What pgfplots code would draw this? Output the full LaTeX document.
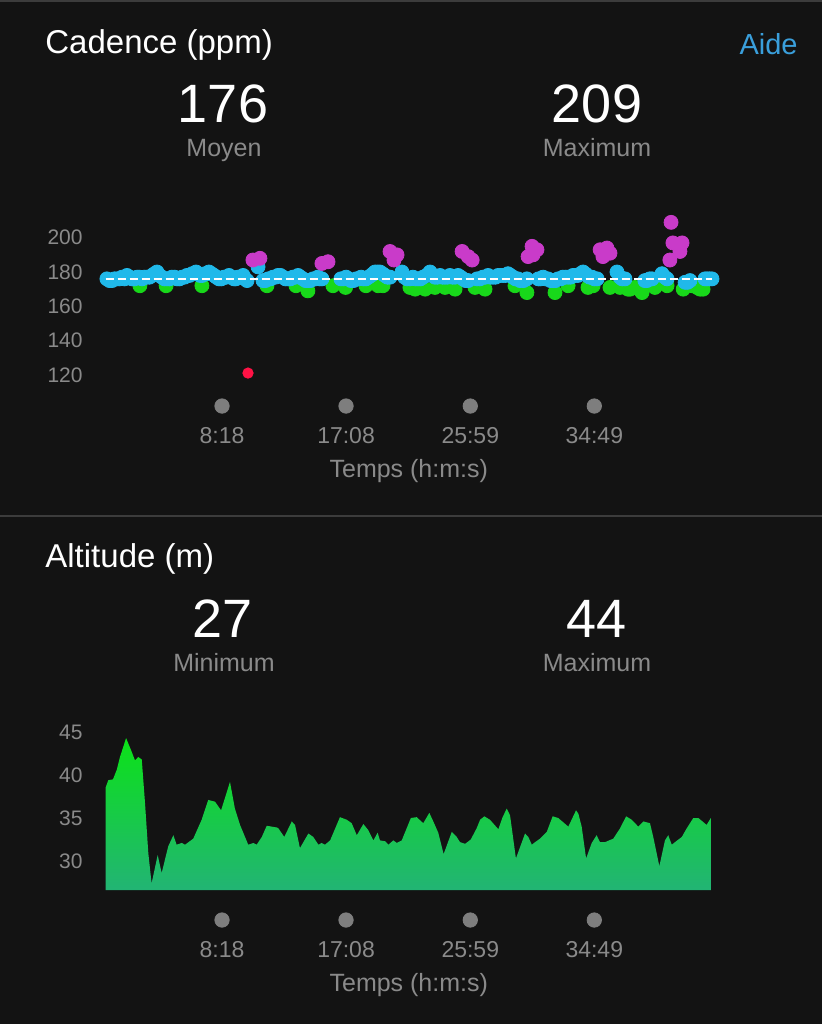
\documentclass[border=0pt]{standalone}
\usepackage{pgfplots}
\pgfplotsset{compat=1.18}
\usepackage{fontspec}
\setmainfont{Liberation Sans}
\definecolor{bg}{HTML}{131313}
\definecolor{sepgray}{HTML}{3C3C3C}
\definecolor{labgray}{HTML}{8A8A8A}
\definecolor{dotgray}{HTML}{7E7E7E}
\definecolor{aideblue}{HTML}{3A9FDB}
\definecolor{cblue}{HTML}{20B9EA}
\definecolor{cgreen}{HTML}{18D81A}
\definecolor{cmag}{HTML}{C93BC9}
\definecolor{cred}{HTML}{FF1245}
\definecolor{altop}{HTML}{0CE218}
\definecolor{albot}{HTML}{22B474}

\pgfplotstableread{
t v
6 176
17 175
28 175
38 176
49 176
60 176
71 177
81 176
92 178
103 177
113 176
124 176
135 177
145 177
156 176
166 177
177 177
188 177
199 178
209 179
220 180
231 178
241 177
252 176
263 176
273 176
284 177
295 177
306 176
316 176
327 177
338 177
348 178
359 178
370 179
378 179
387 180
395 179
404 178
414 178
425 179
433 179
442 180
453 179
464 178
474 177
485 176
495 176
506 177
517 177
528 178
538 177
549 176
557 176
566 177
577 177
588 178
596 176
605 175
652 183
673 175
684 175
695 176
705 176
716 177
727 177
737 178
748 178
759 177
769 176
780 176
790 176
801 177
812 177
823 178
833 177
844 176
855 175
865 175
876 175
887 176
897 176
908 177
916 176
925 176
1006 176
1017 176
1028 177
1038 176
1049 175
1060 175
1071 176
1081 176
1092 177
1103 176
1113 176
1124 177
1135 178
1144 179
1152 180
1163 180
1173 180
1184 179
1194 178
1205 177
1216 177
1267 180
1278 177
1289 176
1301 176
1314 177
1325 176
1336 176
1346 176
1357 177
1372 178
1387 180
1398 178
1408 177
1419 177
1430 178
1440 177
1451 177
1462 177
1472 178
1483 177
1494 177
1507 178
1518 177
1528 176
1539 175
1550 175
1588 176
1600 176
1613 177
1624 177
1635 178
1645 177
1656 177
1667 177
1678 178
1688 178
1699 178
1710 178
1720 179
1731 178
1742 177
1752 176
1763 176
1772 175
1786 175
1801 176
1850 176
1860 176
1870 177
1880 176
1891 176
1902 175
1913 175
1923 175
1934 176
1945 176
1955 177
1966 177
1977 177
1988 177
1998 178
2008 178
2019 178
2030 179
2041 180
2050 179
2058 178
2069 177
2079 177
2090 176
2101 176
2186 180
2199 177
2208 176
2220 176
2305 175
2314 175
2326 176
2336 176
2378 179
2390 177
2400 176
2477 174
2488 174
2498 175
2562 176
2571 176
2582 176
2592 176
}\blue

\pgfplotstableread{
t v
147 172
259 172
412 172
690 172
814 172
865 169
972 172
1026 171
1113 172
1165 172
1186 172
1301 171
1323 170
1366 170
1408 171
1451 171
1494 170
1579 171
1622 170
1750 172
1801 168
1921 168
1977 172
2062 171
2084 172
2156 171
2199 171
2233 170
2242 170
2263 171
2285 170
2293 168
2348 171
2400 172
2469 170
2507 172
2528 171
2541 170
2554 170
}\green

\pgfplotstableread{
t v
630 187
660 188
925 185
951 186
1216 192
1246 190
1233 187
1524 192
1550 189
1567 187
1823 195
1844 193
1806 189
1827 190
2114 193
2143 194
2126 189
2156 191
2417 209
2425 197
2464 197
2455 192
2412 187
}\magenta

\begin{document}
\begin{tikzpicture}
\fill[bg] (0,0) rectangle (411pt,-512pt);
\useasboundingbox (0,0) rectangle (411pt,-512pt);
\draw[sepgray, line width=1.2pt] (0,-0.6pt) -- (411pt,-0.6pt);
\draw[sepgray, line width=0.7pt] (0,-258pt) -- (411pt,-258pt);

% Cadence header
\node[anchor=base west, inner sep=0pt, text=white, font=\fontsize{16.5}{18}\selectfont] at (22.5pt,-26.5pt) {Cadence (ppm)};
\node[anchor=base east, inner sep=0pt, text=aideblue, font=\fontsize{14.5}{16}\selectfont] at (399pt,-27pt) {Aide};
\node[anchor=base, inner sep=0pt, text=white, font=\fontsize{27}{29}\selectfont] at (111.5pt,-61pt) {176};
\node[anchor=base, inner sep=0pt, text=white, font=\fontsize{27}{29}\selectfont] at (298.5pt,-61pt) {209};
\node[anchor=base, inner sep=0pt, text=labgray, font=\fontsize{12.5}{14}\selectfont] at (112pt,-78pt) {Moyen};
\node[anchor=base, inner sep=0pt, text=labgray, font=\fontsize{12.5}{14}\selectfont] at (298.5pt,-78pt) {Maximum};

% Altitude header
\node[anchor=base west, inner sep=0pt, text=white, font=\fontsize{16.5}{18}\selectfont] at (22.5pt,-283.5pt) {Altitude (m)};
\node[anchor=base, inner sep=0pt, text=white, font=\fontsize{27}{29}\selectfont] at (111.5pt,-318.5pt) {27};
\node[anchor=base, inner sep=0pt, text=white, font=\fontsize{27}{29}\selectfont] at (298.5pt,-318.5pt) {44};
\node[anchor=base, inner sep=0pt, text=labgray, font=\fontsize{12.5}{14}\selectfont] at (112pt,-335.5pt) {Minimum};
\node[anchor=base, inner sep=0pt, text=labgray, font=\fontsize{12.5}{14}\selectfont] at (298.5pt,-335.5pt) {Maximum};

\pgfplotsset{
  darkaxis/.style={
    anchor=south west, scale only axis, width=303.25pt,
    xmin=0, xmax=2592,
    axis line style={draw=none}, major tick length=0pt, minor tick num=0,
    clip=false, clip marker paths=true,
    /pgf/number format/assume math mode=true,
    xtick={498,1028,1559,2089}, xticklabels={8:18,17:08,25:59,34:49},
    yticklabel style={anchor=east, inner sep=0pt, xshift=-11.25pt, text=labgray, font=\fontsize{10.5}{12}\selectfont},
    xlabel={Temps (h:m:s)},
  }
}

\begin{axis}[darkaxis,
  at={(52.75pt,-195.95pt)}, height=87.35pt,
  ymin=110, ymax=212, ytick={120,140,160,180,200},
  xticklabel style={anchor=base, inner sep=0pt, yshift=-25.7pt, text=labgray, font=\fontsize{11.5}{13}\selectfont},
  xlabel style={at={(axis description cs:0.5,0)}, anchor=base, inner sep=0pt, yshift=-42.7pt, text=labgray, font=\fontsize{12.5}{14}\selectfont},
]
\addplot[only marks, mark=*, mark size=3.5pt, color=cgreen, mark options={draw=none, fill=cgreen}] table[x=t,y=v] {\green};
\addplot[only marks, mark=*, mark size=3.5pt, color=cblue, mark options={draw=none, fill=cblue}] table[x=t,y=v] {\blue};
\addplot[only marks, mark=*, mark size=3.5pt, color=cmag, mark options={draw=none, fill=cmag}] table[x=t,y=v] {\magenta};
\addplot[only marks, mark=*, mark size=2.6pt, color=cred, mark options={draw=none, fill=cred}] coordinates {(609,121)};
\addplot[white, line width=0.7pt, dash pattern=on 4pt off 2pt] coordinates {(0,176) (2592,176)};
\addplot[only marks, mark=*, mark size=3.6pt, color=dotgray, mark options={draw=none, fill=dotgray}] coordinates {(498,101.75) (1028,101.75) (1559,101.75) (2089,101.75)};
\end{axis}

\begin{axis}[darkaxis,
  at={(52.75pt,-445pt)}, height=83.3pt,
  ymin=26.63, ymax=46, ytick={30,35,40,45},
  xticklabel style={anchor=base, inner sep=0pt, yshift=-33.65pt, text=labgray, font=\fontsize{11.5}{13}\selectfont},
  xlabel style={at={(axis description cs:0.5,0)}, anchor=base, inner sep=0pt, yshift=-50.65pt, text=labgray, font=\fontsize{12.5}{14}\selectfont},
]
\addplot[draw=none, top color=altop, bottom color=albot] coordinates {
(0,26.63) (0,38.5) (12,39.4) (32,39.5) (48,40.6) (62,42.1) (88,44.3) (112,42.7) (126,41.7) (140,42.1) (155,41.8) (169,36.7) (183,30.9) (197,27.4) (223,30.7) (240,28.6) (268,31.7) (290,33.0) (304,31.9) (326,32.1) (340,31.9) (375,32.6) (411,34.8) (439,37.1) (468,36.9) (494,35.9) (532,39.2) (553,36.1) (575,34.2) (610,31.9) (632,32.1) (646,31.9) (668,32.8) (689,34.1) (732,33.9) (739,33.8) (764,32.8) (796,34.6) (810,34.2) (831,31.5) (867,33.2) (888,32.8) (910,31.9) (924,32.1) (938,31.9) (960,32.4) (1002,35.1) (1031,34.8) (1052,34.4) (1074,33.0) (1102,34.3) (1123,33.6) (1145,32.4) (1163,33.3) (1173,32.4) (1195,32.3) (1209,31.9) (1230,32.4) (1245,32.1) (1266,32.4) (1305,35.0) (1330,35.1) (1358,34.4) (1384,35.6) (1401,34.6) (1422,33.3) (1445,30.8) (1480,33.4) (1501,32.8) (1515,32.2) (1537,32.0) (1561,32.5) (1586,33.8) (1601,34.8) (1619,35.2) (1643,34.8) (1679,33.7) (1697,35.1) (1715,36.1) (1729,35.3) (1754,30.3) (1793,33.2) (1807,32.8) (1822,31.9) (1836,32.2) (1857,32.6) (1886,33.4) (1911,35.2) (1935,35.0) (1978,34.0) (2011,35.9) (2021,35.5) (2035,34.0) (2054,30.3) (2078,32.1) (2099,33.0) (2113,32.2) (2135,32.2) (2170,32.6) (2199,33.8) (2225,35.2) (2249,34.8) (2277,34.0) (2299,34.6) (2327,34.4) (2341,32.8) (2367,29.4) (2391,32.4) (2405,33.0) (2420,31.9) (2434,32.2) (2463,32.8) (2484,33.8) (2512,35.0) (2534,35.0) (2569,34.2) (2587,35.0) (2587,26.63)
};
\addplot[only marks, mark=*, mark size=3.6pt, color=dotgray, mark options={draw=none, fill=dotgray}] coordinates {(498,23.14) (1028,23.14) (1559,23.14) (2089,23.14)};
\end{axis}
\end{tikzpicture}
\end{document}
